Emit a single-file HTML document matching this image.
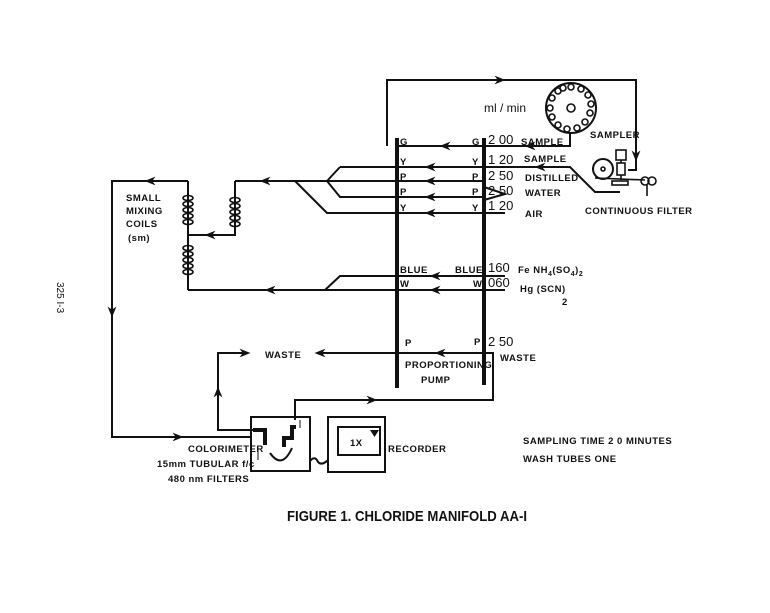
<!DOCTYPE html>
<html><head><meta charset="utf-8"><style>
html,body{margin:0;padding:0;background:#fff}
svg{display:block}
text{font-family:"Liberation Sans",sans-serif;font-weight:bold;fill:#111}
.c{font-family:"Liberation Sans",sans-serif;font-weight:bold;font-size:9.5px;letter-spacing:0.5px}
.n{font-weight:normal;font-size:13px}
</style></head><body>
<svg width="770" height="613" viewBox="0 0 770 613" xmlns="http://www.w3.org/2000/svg">
<defs>
<marker id="a" viewBox="0 0 10 10" refX="5" refY="5" markerUnits="userSpaceOnUse" markerWidth="14" markerHeight="11" orient="auto"><path d="M0,1 L10,5 L0,9 L3,5z" fill="#111"/></marker>
</defs>
<g stroke="#111" stroke-width="2" fill="none">
<line x1="397" y1="138" x2="397" y2="388" stroke-width="4"/>
<line x1="484" y1="138" x2="484" y2="385" stroke-width="4"/>
<polyline points="387,146 387,80 636,80 636,170 628,170"/>
<path d="M490,80 L500,80" marker-end="url(#a)"/>
<path d="M636,150 L636,156" marker-end="url(#a)"/>
<polyline points="570,133 570,146 397,146"/>
<path d="M455,146 L445,146" marker-end="url(#a)"/>
<path d="M540,146 L530,146" marker-end="url(#a)"/>
<polyline points="340,167 570,167 595,192 620,192"/>
<path d="M440,167 L430,167" marker-end="url(#a)"/>
<path d="M550,167 L540,167" marker-end="url(#a)"/>
<polyline points="340,167 327,181"/>
<line x1="235" y1="181" x2="484" y2="181"/>
<path d="M440,181 L430,181" marker-end="url(#a)"/>
<path d="M275,181 L265,181" marker-end="url(#a)"/>
<polyline points="484,197 340,197 327,181"/>
<path d="M440,197 L430,197" marker-end="url(#a)"/>
<polyline points="484,187 505,194 484,200"/>
<polyline points="505,213 327,213 295,181"/>
<path d="M440,213 L430,213" marker-end="url(#a)"/>
<polyline points="235,181 235,235 188,235"/>
<path d="M220,235 L210,235" marker-end="url(#a)"/>
<polyline points="188,181 112,181 112,437 251,437"/>
<path d="M160,181 L150,181" marker-end="url(#a)"/>
<path d="M112,300 L112,312" marker-end="url(#a)"/>
<path d="M165,437 L178,437" marker-end="url(#a)"/>
<line x1="188" y1="181" x2="188" y2="290"/>
<polyline points="505,276 340,276 325,290"/>
<path d="M445,276 L435,276" marker-end="url(#a)"/>
<polyline points="505,290 188,290"/>
<path d="M445,290 L435,290" marker-end="url(#a)"/>
<path d="M280,290 L270,290" marker-end="url(#a)"/>
<polyline points="484,353 493,353 493,400 295,400 295,420"/>
<path d="M493,353 L320,353" marker-end="url(#a)"/>
<path d="M450,353 L440,353" marker-end="url(#a)"/>
<path d="M360,400 L372,400" marker-end="url(#a)"/>
<polyline points="262,430 218,430 218,353 245,353" marker-end="url(#a)"/>
<path d="M218,400 L218,392" marker-end="url(#a)"/>
<rect x="251" y="417" width="59" height="54"/>
<polyline points="253,430 265,430 265,445" stroke-width="4"/>
<polyline points="284,447 284,438 292,438 292,427 296,427" stroke-width="4"/>
<path d="M270,453 Q282,470 292,448"/>
<line x1="258" y1="448" x2="258" y2="460" stroke-width="1"/>
<line x1="300" y1="428" x2="300" y2="420" stroke-width="1"/>
<rect x="328" y="417" width="57" height="55"/>
<rect x="338" y="427" width="42" height="28"/>
<path d="M310,461 Q315,455 318,462 Q322,466 328,460"/>
</g>
<path d="M370,430 L379,430 L374.5,437z" fill="#111"/>
<g stroke="#111" stroke-width="1.6" fill="none">
<g id="cl"><ellipse cx="188" cy="198" rx="5" ry="2.5"/><ellipse cx="188" cy="204" rx="5" ry="2.5"/><ellipse cx="188" cy="210" rx="5" ry="2.5"/><ellipse cx="188" cy="216" rx="5" ry="2.5"/><ellipse cx="188" cy="222" rx="5" ry="2.5"/></g>
<use href="#cl" transform="translate(0,50)"/>
<use href="#cl" transform="translate(47,2)"/>
<circle cx="571" cy="108" r="25" stroke-width="2"/>
<circle cx="571" cy="108" r="4"/>
<circle cx="571" cy="87" r="3"/><circle cx="581" cy="89" r="3"/><circle cx="588" cy="95" r="3"/><circle cx="591" cy="104" r="3"/><circle cx="590" cy="113" r="3"/><circle cx="585" cy="122" r="3"/><circle cx="577" cy="128" r="3"/><circle cx="567" cy="129" r="3"/><circle cx="558" cy="125" r="3"/><circle cx="552" cy="117" r="3"/><circle cx="550" cy="108" r="3"/><circle cx="552" cy="98" r="3"/><circle cx="558" cy="91" r="3"/><circle cx="563" cy="88" r="3"/>
<circle cx="603" cy="169" r="10" stroke-width="2"/>
<circle cx="603" cy="169" r="2"/>
<rect x="616" y="150" width="10" height="10"/>
<rect x="617" y="163" width="8" height="12"/>
<line x1="621" y1="160" x2="621" y2="163"/>
<line x1="621" y1="175" x2="621" y2="180"/>
<rect x="612" y="181" width="16" height="4"/>
<line x1="595" y1="178" x2="645" y2="180"/>
<circle cx="645" cy="181" r="4"/><circle cx="652" cy="181" r="4"/>
<line x1="647" y1="185" x2="647" y2="196"/>
</g>
<text x="484" y="112" class="n" style="font-size:12px">ml / min</text>
<text x="400" y="145" class="c">G</text><text x="472" y="145" class="c">G</text>
<text x="400" y="165" class="c">Y</text><text x="472" y="165" class="c">Y</text>
<text x="400" y="180" class="c">P</text><text x="472" y="180" class="c">P</text>
<text x="400" y="195" class="c">P</text><text x="472" y="195" class="c">P</text>
<text x="400" y="211" class="c">Y</text><text x="472" y="211" class="c">Y</text>
<text x="488" y="144" class="n">2 00</text>
<text x="488" y="164" class="n">1 20</text>
<text x="488" y="180" class="n">2 50</text>
<text x="488" y="195" class="n">2 50</text>
<text x="488" y="210" class="n">1 20</text>
<text x="521" y="145" class="c">SAMPLE</text>
<text x="524" y="162" class="c">SAMPLE</text>
<text x="525" y="181" class="c">DISTILLED</text>
<text x="525" y="196" class="c">WATER</text>
<text x="525" y="217" class="c">AIR</text>
<text x="590" y="138" class="c">SAMPLER</text>
<text x="585" y="214" class="c">CONTINUOUS FILTER</text>
<text x="400" y="273" class="c">BLUE</text><text x="455" y="273" class="c">BLUE</text>
<text x="400" y="287" class="c">W</text><text x="473" y="287" class="c">W</text>
<text x="488" y="272" class="n">160</text>
<text x="488" y="287" class="n">060</text>
<text x="518" y="273" class="c">Fe NH<tspan font-size="7" dy="3">4</tspan><tspan dy="-3">(SO</tspan><tspan font-size="7" dy="3">4</tspan><tspan dy="-3">)</tspan><tspan font-size="7" dy="3">2</tspan></text>
<text x="520" y="292" class="c">Hg (SCN)</text>
<text x="562" y="305" class="c">2</text>
<text x="405" y="346" class="c">P</text><text x="474" y="345" class="c">P</text>
<text x="488" y="346" class="n">2 50</text>
<text x="500" y="361" class="c">WASTE</text>
<text x="265" y="358" class="c">WASTE</text>
<text x="405" y="368" class="c">PROPORTIONING</text>
<text x="421" y="383" class="c">PUMP</text>
<text x="126" y="201" class="c">SMALL</text>
<text x="126" y="214" class="c">MIXING</text>
<text x="126" y="227" class="c">COILS</text>
<text x="128" y="241" class="c">(sm)</text>
<text x="188" y="452" class="c">COLORIMETER</text>
<text x="157" y="467" class="c">15mm TUBULAR f/c</text>
<text x="168" y="482" class="c">480 nm  FILTERS</text>
<text x="350" y="446" class="c">1X</text>
<text x="388" y="452" class="c">RECORDER</text>
<text x="523" y="444" class="c">SAMPLING  TIME  2 0  MINUTES</text>
<text x="523" y="462" class="c">WASH TUBES  ONE</text>
<text x="287" y="521" style="font-size:15px" textLength="240" lengthAdjust="spacingAndGlyphs">FIGURE 1.  CHLORIDE  MANIFOLD    AA-I</text>
<text x="0" y="0" class="n" style="font-size:10px" transform="translate(57,282) rotate(90)">325 I-3</text>
</svg>
</body></html>
